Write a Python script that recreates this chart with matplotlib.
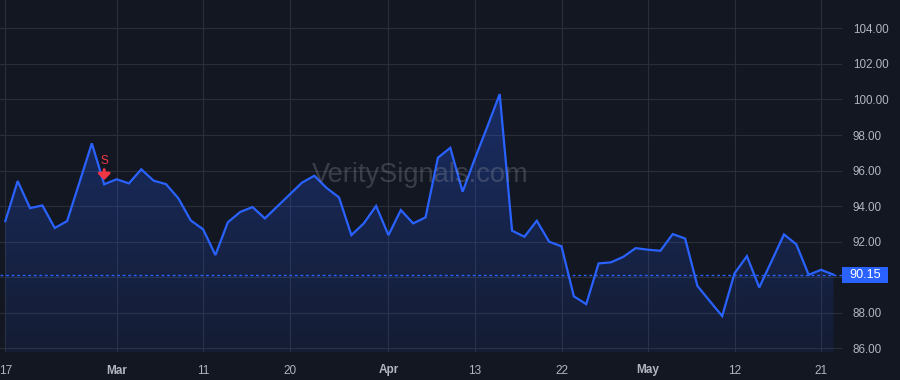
import numpy as np
import matplotlib
matplotlib.use("Agg")
import matplotlib.pyplot as plt
from matplotlib.colors import LinearSegmentedColormap
from matplotlib.patches import Rectangle

# ---- data ----
prices = [93.16, 95.41, 93.89, 94.04, 92.77, 93.16, 95.34, 97.53, 95.23, 95.51,
          95.28, 96.07, 95.43, 95.24, 94.44, 93.20, 92.70, 91.25, 93.09, 93.67,
          93.95, 93.31, 93.98, 94.65, 95.32, 95.71, 95.02, 94.49, 92.37, 93.03,
          94.01, 92.37, 93.78, 93.03, 93.37, 96.72, 97.28, 94.81, 96.69, 98.47,
          100.30, 92.62, 92.28, 93.18, 92.00, 91.74, 88.93, 88.49, 90.78, 90.84,
          91.15, 91.64, 91.55, 91.49, 92.43, 92.18, 89.51, 88.66, 87.82, 90.22,
          91.19, 89.43, 90.91, 92.41, 91.85, 90.14, 90.42, 90.15]
tick_index = [0, 9, 16, 23, 31, 38, 45, 52, 59, 66]
tick_labels = ["17", "Mar", "11", "20", "Apr", "13", "22", "May", "12", "21"]
bold_labels = ["Mar", "Apr", "May"]
y_ticks = [86, 88, 90, 92, 94, 96, 98, 100, 102, 104]
signal_index = 8
signal_text = "S"
last_price = prices[-1]
watermark = "VeritySignals.com"

BG = "#131722"
GRID = "#2a2e39"
LINE = "#2962ff"
TXT = "#b2b5be"
RED = "#f23645"

plt.rcParams['font.family'] = ['Liberation Sans', 'DejaVu Sans']

fig = plt.figure(figsize=(9, 3.8), dpi=100, facecolor=BG)
ax = fig.add_axes([0, 28 / 380, 841.7 / 900, 352 / 380], facecolor=BG)

x = np.arange(len(prices))
ymin, ymax = 85.8, 105.59
xmin, xmax = -0.43, 67.67
ax.set_xlim(xmin, xmax)
ax.set_ylim(ymin, ymax)

# gradient fill under line
poly = ax.fill_between(x, prices, ymin, facecolor="none", edgecolor="none")
cmap = LinearSegmentedColormap.from_list(
    "g", [(0.16, 0.38, 1.0, 0.08), (0.16, 0.38, 1.0, 0.30)])
grad = np.linspace(0, 1, 256).reshape(-1, 1)
im = ax.imshow(grad, cmap=cmap, aspect="auto", origin="lower",
               extent=[xmin, xmax, ymin, max(prices)], zorder=1)
path = poly.get_paths()[0]
im.set_clip_path(path, transform=ax.transData)

ax.plot(x, prices, color=LINE, lw=1.6, zorder=3, solid_joinstyle="miter")

# last price dashed line
ax.axhline(last_price, color=LINE, lw=1, ls=(0, (2, 2)), zorder=2)

# grid
ax.set_yticks(y_ticks)
ax.set_xticks(tick_index)
ax.grid(True, color=GRID, lw=0.8, zorder=0)
ax.set_axisbelow(True)
for s in ax.spines.values():
    s.set_visible(False)

ax.yaxis.tick_right()
# the 90.00 label is hidden behind the last-price box in the reference
ax.set_yticklabels(["" if abs(v - last_price) < 1.0 else f"{v:.2f}" for v in y_ticks])
ax.tick_params(axis="y", length=0, pad=8, labelsize=8.4, labelcolor=TXT)
ax.set_xticklabels(tick_labels)
ax.tick_params(axis="x", length=0, pad=9, labelsize=8.5, labelcolor=TXT)
for lab in ax.get_xticklabels():
    lab.set_ha("center")
    if lab.get_text() in bold_labels:
        lab.set_fontweight("bold")

# last price label box
trans = ax.get_yaxis_transform()
fig.canvas.draw()
yp = ax.transData.transform((0, last_price))[1]
fig.patches.append(Rectangle((842 / 900, (yp - 8) / 380), 46 / 900, 16 / 380,
                             transform=fig.transFigure, facecolor=LINE,
                             edgecolor="none", zorder=5))
fig.text(865 / 900, yp / 380, f"{last_price:.2f}", ha="center", va="center",
         color="white", fontsize=9.1, zorder=6)

# signal marker
ax.annotate("", xy=(signal_index, prices[signal_index]),
            xytext=(0, 10.5), textcoords="offset points",
            arrowprops=dict(arrowstyle="-|>,head_width=0.35,head_length=0.35",
                            color=RED, lw=2.2, shrinkA=0, shrinkB=3),
            zorder=6)
ax.annotate(signal_text, xy=(signal_index, prices[signal_index]),
            xytext=(0, 17), textcoords="offset points",
            ha="center", va="center", color=RED, fontsize=8.5, zorder=6)

# watermark
fig.text(420.5 / 900, (380 - 182) / 380, watermark, ha="center", va="baseline",
         fontsize=19.6, color="#9598a1", alpha=0.3, zorder=10)

fig.savefig("out.png", dpi=100, facecolor=BG)
